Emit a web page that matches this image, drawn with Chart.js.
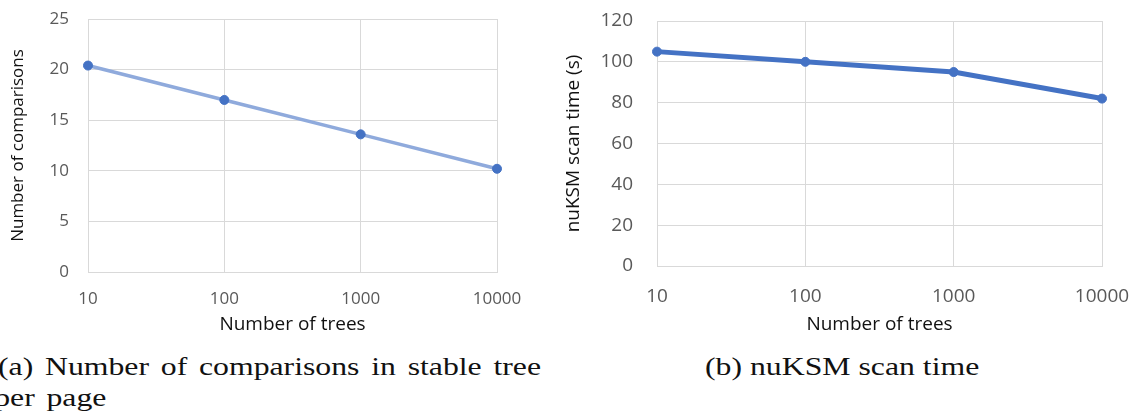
<!DOCTYPE html>
<html>
<head>
<meta charset="utf-8">
<script src="https://cdn.jsdelivr.net/npm/chart.js@4"></script>
<style>
  html, body { margin: 0; padding: 0; background: #fff; }
  body { width: 1132px; height: 419px; position: relative; overflow: hidden; }
  .box { position: absolute; top: 0; height: 345px; }
  #boxA { left: 0; width: 540px; }
  #boxB { left: 540px; width: 592px; }
  .cap {
    position: absolute;
    font-family: "Liberation Serif", serif;
    font-size: 25px;
    line-height: 31px;
    color: #111;
    white-space: nowrap;
    transform: scaleX(1.27);
    transform-origin: left top;
  }
  #capA { left: -2px; top: 351px; word-spacing: 3px; }
  #capB { left: 705px; top: 351px; }
</style>
</head>
<body>
<div class="box" id="boxA"><canvas id="chartA"></canvas></div>
<div class="box" id="boxB"><canvas id="chartB"></canvas></div>
<div class="cap" id="capA">(a) Number of comparisons in stable tree<br><span style="margin-left:-3px">per page</span></div>
<div class="cap" id="capB">(b) nuKSM scan time</div>
<script>
// data
const treeCounts = ['10', '100', '1000', '10000'];
const comparisons = [20.4, 17.0, 13.6, 10.2];
const scanTimes = [105, 100, 95, 82];

const compAxis = { min: 0, max: 25, step: 5 };
const timeAxis = { min: 0, max: 120, step: 20 };

const gridGray = '#d9d9d9';
const tickGray = '#595959';
const noColor = 'rgba(0,0,0,0)';

// tick gap is done with invisible tick marks, so the label padding
// does not push the plot area in from the edges
function makeConfig(values, color, lineWidth, yAxis, yTitle, s) {
    return {
        type: 'line',
        data: {
            labels: treeCounts,
            datasets: [{
                data: values,
                borderColor: color,
                borderWidth: lineWidth,
                pointRadius: 4.5,
                pointBackgroundColor: '#4472c4',
                pointBorderColor: '#4472c4',
                pointBorderWidth: 1,
                tension: 0,
                clip: false
            }]
        },
        options: {
            responsive: true,
            maintainAspectRatio: false,
            animation: false,
            layout: { padding: { top: s.top, right: s.right, left: 0, bottom: 0 } },
            plugins: { legend: { display: false }, tooltip: { enabled: false } },
            scales: {
                x: {
                    offset: false,
                    grid: { color: gridGray, lineWidth: 1, drawTicks: true, tickLength: s.xPad, tickColor: noColor },
                    border: { color: gridGray },
                    ticks: {
                        color: tickGray,
                        font: { family: 'Open Sans', size: s.tickSize },
                        padding: 0,
                        maxRotation: 0
                    },
                    title: {
                        display: true,
                        text: 'Number of trees',
                        color: '#111',
                        font: { family: 'Open Sans', size: 19 },
                        padding: { top: 0, bottom: 9 }
                    },
                    afterFit: scale => { scale.height = s.xHeight; }
                },
                y: {
                    min: yAxis.min,
                    max: yAxis.max,
                    grid: { color: gridGray, lineWidth: 1, drawTicks: true, tickLength: s.yPad, tickColor: noColor },
                    border: { color: gridGray },
                    ticks: {
                        stepSize: yAxis.step,
                        color: tickGray,
                        font: { family: 'Open Sans', size: s.tickSize },
                        padding: 0
                    },
                    title: {
                        display: true,
                        text: yTitle,
                        color: '#111',
                        font: { family: 'Open Sans', size: s.yTitleSize },
                        padding: { top: s.yTitlePad, bottom: 0 }
                    },
                    afterFit: scale => { scale.width = s.yWidth; }
                }
            }
        }
    };
}

new Chart(document.getElementById('chartA'), makeConfig(
    comparisons, '#8faadc', 3.5, compAxis, 'Number of comparisons',
    { top: 19, right: 43, tickSize: 17, xPad: 17, xHeight: 73, yPad: 19, yWidth: 88, yTitleSize: 17, yTitlePad: 8 }
));

new Chart(document.getElementById('chartB'), makeConfig(
    scanTimes, '#4472c4', 5, timeAxis, 'nuKSM scan time (s)',
    { top: 21, right: 30, tickSize: 19, xPad: 19, xHeight: 79, yPad: 24, yWidth: 117, yTitleSize: 19, yTitlePad: 22 }
));
</script>
</body>
</html>
